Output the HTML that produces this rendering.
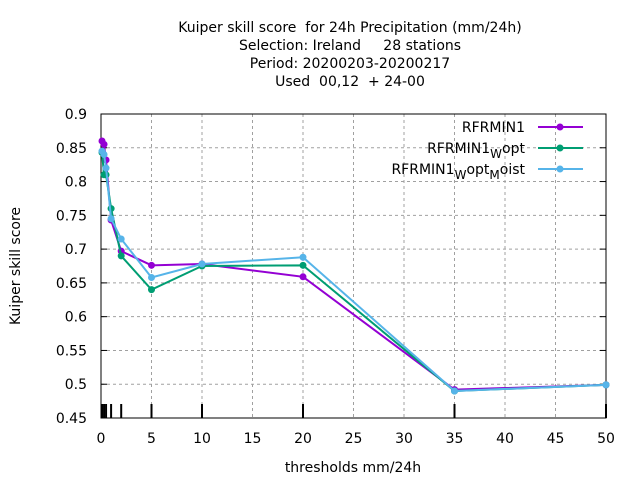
<!DOCTYPE html>
<html><head><meta charset="utf-8"><style>
body{margin:0;background:#fff;}
svg{font-family:"DejaVu Sans","Liberation Sans",sans-serif;font-size:14px;}
text{white-space:pre;}
</style></head><body>
<svg id="c" width="640" height="480" xmlns="http://www.w3.org/2000/svg"></svg>
<script>
const thresholds=[0.1,0.3,0.5,1,2,5,10,20,35,50];
const rfrmin1=[0.86,0.855,0.832,0.743,0.697,0.676,0.678,0.659,0.492,0.499];
const wopt=[0.843,0.81,0.81,0.76,0.69,0.64,0.675,0.676,0.49,0.499];
const woptMoist=[0.845,0.84,0.82,0.745,0.715,0.658,0.678,0.688,0.49,0.499];
const xTicks=[0,5,10,15,20,25,30,35,40,45,50];
const yTicks=[0.45,0.5,0.55,0.6,0.65,0.7,0.75,0.8,0.85,0.9];
const titleLines=["Kuiper skill score  for 24h Precipitation (mm/24h)","Selection: Ireland     28 stations","Period: 20200203-20200217","Used  00,12  + 24-00"];
const NS="http://www.w3.org/2000/svg";const svg=document.getElementById('c');
const L=101,R=606,T=114,B=418;
const sx=v=>L+(v-0)/(50-0)*(R-L);
const sy=v=>B-(v-0.45)/(0.9-0.45)*(B-T);
function mk(t,a,p){const e=document.createElementNS(NS,t);for(const k in a)e.setAttribute(k,a[k]);(p||svg).appendChild(e);return e;}
titleLines.forEach((s,i)=>{const e=mk('text',{x:350,y:32+i*18,'text-anchor':'middle'});e.textContent=s;

});
xTicks.forEach(v=>{const x=sx(v);
if(v>0&&v<50){const g=mk('line',{x1:x,y1:T,x2:x,y2:B,stroke:'#a0a0a0','stroke-dasharray':'3,3'});

}
const t=mk('text',{x:x,y:443,'text-anchor':'middle'});t.textContent=v;

});
yTicks.forEach(v=>{const y=sy(v);
if(v>0.45&&v<0.9){const g=mk('line',{x1:L,y1:y,x2:R,y2:y,stroke:'#a0a0a0','stroke-dasharray':'3,3'});

}
mk('line',{x1:L,y1:y,x2:L+6,y2:y,stroke:'#000'});mk('line',{x1:R,y1:y,x2:R-6,y2:y,stroke:'#000'});
const t=mk('text',{x:87,y:y+5,'text-anchor':'end'});
t.textContent=String(v);

});
thresholds.forEach(v=>{const m=mk('line',{x1:sx(v),y1:B,x2:sx(v),y2:B-14,stroke:'#000','stroke-width':2});

});
const frame=mk('rect',{x:L,y:T,width:R-L,height:B-T,fill:'none',stroke:'#000'});


const xl=mk('text',{x:353,y:472,'text-anchor':'middle'});xl.textContent='thresholds mm/24h';


const yl=mk('text',{x:20,y:266,'text-anchor':'middle',transform:'rotate(-90 20 266)'});yl.textContent='Kuiper skill score';


const series=[{d:rfrmin1,c:'#9400d3',n:'rfrmin1'},{d:wopt,c:'#009e73',n:'rfrmin1-wopt'},{d:woptMoist,c:'#56b4e9',n:'rfrmin1-wopt-moist'}];
series.forEach((s,i)=>{
const pl=mk('polyline',{points:thresholds.map((t,j)=>sx(t)+','+sy(s.d[j])).join(' '),fill:'none',stroke:s.c,'stroke-width':2});


thresholds.forEach((t,j)=>{const p=mk('circle',{cx:sx(t),cy:sy(s.d[j]),r:3.5,fill:s.c});

});
const ly=127+i*21;
const ll=mk('line',{x1:538,y1:ly,x2:583,y2:ly,stroke:s.c,'stroke-width':2});


mk('circle',{cx:560,cy:ly,r:3.5,fill:s.c});
});
const lg=[['RFRMIN1',''],['RFRMIN1','<tspan dy="5" font-size="12">W</tspan><tspan dy="-5">opt</tspan>'],['RFRMIN1','<tspan dy="5" font-size="12">W</tspan><tspan dy="-5">opt</tspan><tspan dy="5" font-size="12">M</tspan><tspan dy="-5">oist</tspan>']];
lg.forEach((l,i)=>{const t=mk('text',{x:525,y:132+i*21,'text-anchor':'end'});t.innerHTML=l[0]+l[1];

});
</script>
</body></html>
